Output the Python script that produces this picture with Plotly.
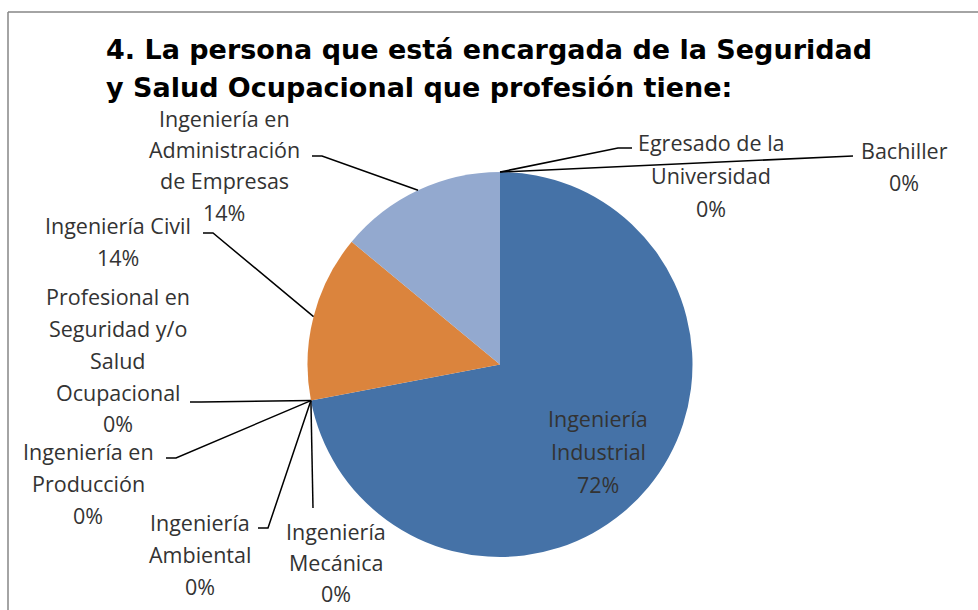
import math
import plotly.graph_objects as go

# ---------------- data ----------------
categories = [
    "Ingeniería Industrial",
    "Ingeniería Mecánica",
    "Ingeniería Ambiental",
    "Ingeniería en Producción",
    "Profesional en Seguridad y/o Salud Ocupacional",
    "Ingeniería Civil",
    "Ingeniería en Administración de Empresas",
    "Egresado de la Universidad",
    "Bachiller",
]
percent_values = [72, 0, 0, 0, 0, 14, 14, 0, 0]
label_lines = [
    ["Ingeniería", "Industrial"],
    ["Ingeniería", "Mecánica"],
    ["Ingeniería", "Ambiental"],
    ["Ingeniería en", "Producción"],
    ["Profesional en", "Seguridad y/o", "Salud", "Ocupacional"],
    ["Ingeniería Civil"],
    ["Ingeniería en", "Administración", "de Empresas"],
    ["Egresado de la", "Universidad"],
    ["Bachiller"],
]
slice_colors = ["#4572A7", "#AA4643", "#89A54E", "#71588F", "#4198AF",
                "#DB843D", "#93A9CF", "#D19392", "#B9CD96"]
title_lines = ["4. La persona que está encargada de la Seguridad",
               "y Salud Ocupacional que profesión tiene:"]

# ---------------- layout (pixels) ----------------
W, H = 978, 610
CX, CY, R = 500, 364.5, 192.5

def px(x):
    return x / W

def py(y):
    return 1 - y / H

# label layout: (center x, first line y, line spacing, elbow points or None)
label_layout = [
    (598, 418, 33, None),                                   # Industrial (inside)
    (336, 531, 31, [(313, 508)]),                           # Mecánica
    (200, 522, 32, [(258, 528), (268, 528)]),               # Ambiental
    (88, 451, 32, [(166, 458), (176, 458)]),                # Producción
    (118, 297, 31.7, [(190, 402), (201, 402)]),             # Profesional
    (118, 225, 32, [(203, 233), (213, 233)]),               # Civil
    (224, 118, 31.5, [(312, 156), (322, 156)]),             # Administración
    (711, 143, 32.5, [(632, 148), (618, 148)]),             # Egresado
    (904, 150, 32.5, [(853, 156)]),                         # Bachiller
]

# slice angles from the data (clockwise from the top)
total = sum(percent_values)
anchors = []
cum = 0
for v in percent_values:
    mid = cum + v / 2
    theta = 2 * math.pi * mid / total
    anchors.append((CX + R * math.sin(theta), CY - R * math.cos(theta)))
    cum += v

fig = go.Figure()
fig.add_trace(go.Pie(
    labels=categories,
    values=percent_values,
    sort=False,
    direction="clockwise",
    rotation=0,
    marker=dict(colors=slice_colors, line=dict(width=0)),
    textinfo="none",
    hoverinfo="label+percent",
    showlegend=False,
    domain=dict(x=[px(CX - R), px(CX + R)], y=[py(CY + R), py(CY - R)]),
))

annotations = []
shapes = []
label_font = dict(family="Open Sans, Noto Sans, sans-serif", size=21.5, color="#333333")

for i, cat in enumerate(categories):
    cx, y0, sp, elbow = label_layout[i]
    lines = label_lines[i] + [f"{percent_values[i]}%"]
    for k, t in enumerate(lines):
        annotations.append(dict(
            x=px(cx), y=py(y0 + k * sp), xref="paper", yref="paper",
            text=t, showarrow=False, xanchor="center", yanchor="middle",
            font=label_font,
        ))
    if elbow:
        pts = elbow + [anchors[i]]
        path = "M " + " L ".join(f"{px(a)},{py(b)}" for a, b in pts)
        shapes.append(dict(type="path", xref="paper", yref="paper", path=path,
                           line=dict(color="#000000", width=1.5)))

for k, t in enumerate(title_lines):
    annotations.append(dict(
        x=px(104), y=py(50 + k * 38), xref="paper", yref="paper",
        text="<b>" + t + "</b>", showarrow=False, xanchor="left", yanchor="middle",
        font=dict(family="DejaVu Sans, sans-serif", size=27, color="#000000"),
    ))

# chart frame (left and top edges visible)
shapes.append(dict(type="line", xref="paper", yref="paper",
                   x0=px(8), y0=py(12), x1=px(8), y1=py(615),
                   line=dict(color="#868686", width=1.5)))
shapes.append(dict(type="line", xref="paper", yref="paper",
                   x0=px(8), y0=py(12), x1=px(985), y1=py(12),
                   line=dict(color="#868686", width=1.5)))

fig.update_layout(
    width=W, height=H,
    margin=dict(l=0, r=0, t=0, b=0),
    paper_bgcolor="white", plot_bgcolor="white",
    annotations=annotations, shapes=shapes,
)

fig.write_html("out.html",
               config={"displayModeBar": False},
               post_script="document.body.style.margin='0';document.body.style.padding='0';document.body.style.overflow='hidden';")
